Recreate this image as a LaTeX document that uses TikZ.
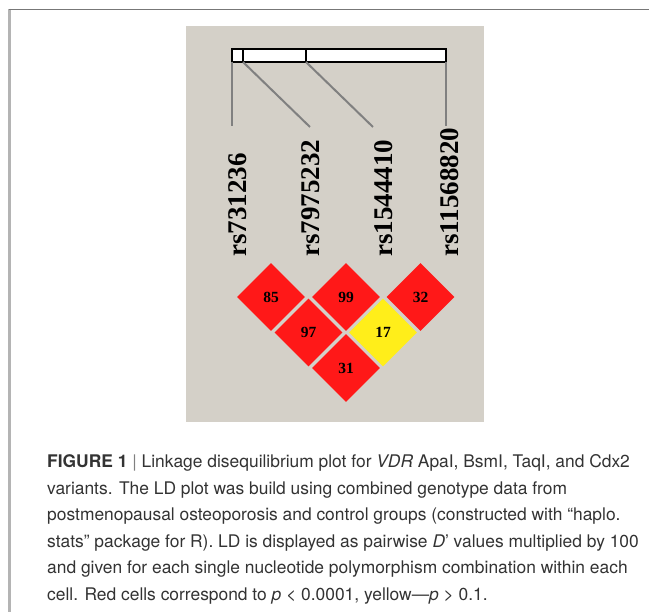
\documentclass[tikz,border=0pt]{standalone}
\usepackage{fontspec}
\setmainfont{Liberation Serif}
\newfontfamily\capfont{TeX Gyre Heros}
\usetikzlibrary{shapes.geometric}
\definecolor{panelgray}{HTML}{D4D0C8}
\definecolor{ldred}{HTML}{FF1818}
\definecolor{ldyellow}{HTML}{FFEE1A}
\definecolor{captext}{HTML}{333333}
\definecolor{framedark}{HTML}{777777}
\definecolor{framelight}{HTML}{B4B4B4}
\definecolor{linkgray}{HTML}{808080}
\tikzset{
  snplabel/.style={rotate=90, anchor=west, inner sep=0pt, font=\fontsize{27}{27}\selectfont\bfseries},
  ldcell/.style={shape=diamond, minimum width=68pt, minimum height=68pt, inner sep=0pt,
                 font=\fontsize{15.5}{15.5}\selectfont\bfseries},
  redcell/.style={ldcell, fill=ldred},
  yellowcell/.style={ldcell, fill=ldyellow},
  linkline/.style={draw=linkgray, line width=2pt},
  capline/.style={anchor=base west, inner sep=0pt, text=captext,
                  font=\capfont\fontsize{17.4}{17.4}\selectfont}
}
\begin{document}
\begin{tikzpicture}[x=1pt,y=-1pt]
\useasboundingbox (0,0) rectangle (649,612);
\fill[white] (0,0) rectangle (649,612);
% outer frame
\draw[framelight, line width=2.5pt] (9.5,9) -- (9.5,612);
\draw[framedark, line width=1.5pt] (9,9.3) -- (649,9.3);
% panel
\fill[panelgray] (186,26) rectangle (484,422);
% bar
\draw[black, line width=2pt, fill=white] (232,49) rectangle (446,62);
\coordinate (t1) at (232,62);
\coordinate (t2) at (243,62);
\coordinate (t3) at (306,62);
\coordinate (t4) at (446,62);
\draw[black, line width=2pt] (243,49) -- (t2);
\draw[black, line width=2pt] (306,49) -- (t3);
% link line ends
\coordinate (e1) at (232,126);
\coordinate (e2) at (310,127);
\coordinate (e3) at (373,127);
\coordinate (e4) at (446,126);
\draw[linkline] (t1) -- (e1);
\draw[linkline] (t2) -- (e2);
\draw[linkline] (t3) -- (e3);
\draw[linkline] (t4) -- (e4);
% SNP labels
\node[snplabel] (s1) at (238,257) {rs731236};
\node[snplabel] (s2) at (311,257) {rs7975232};
\node[snplabel] (s3) at (384,257) {rs1544410};
\node[snplabel] (s4) at (450,257) {rs11568820};
% LD cells
\node[redcell] (c12) at (271,297) {85};
\node[redcell] (c23) at (346,297) {99};
\node[redcell] (c34) at (420.5,297) {32};
\node[redcell] (c13) at (308.5,332.5) {97};
\node[yellowcell] (c24) at (383,332.5) {17};
\node[redcell] (c14) at (346,368) {31};
% caption
\node[capline] (l1) at (47,468) {\textbf{FIGURE 1} {\color{gray}|} Linkage disequilibrium plot for \textit{VDR} ApaI, BsmI, TaqI, and Cdx2};
\node[capline] (l2) at (47,494.5) {variants. The LD plot was build using combined genotype data from};
\node[capline] (l3) at (47,521) {postmenopausal osteoporosis and control groups (constructed with “haplo.};
\node[capline] (l4) at (47,547.5) {stats” package for R). LD is displayed as pairwise \textit{D}’ values multiplied by 100};
\node[capline] (l5) at (47,574) {and given for each single nucleotide polymorphism combination within each};
\node[capline] (l6) at (47,600.5) {cell. Red cells correspond to \textit{p} < 0.0001, yellow—\textit{p} > 0.1.};
\end{tikzpicture}
\end{document}
